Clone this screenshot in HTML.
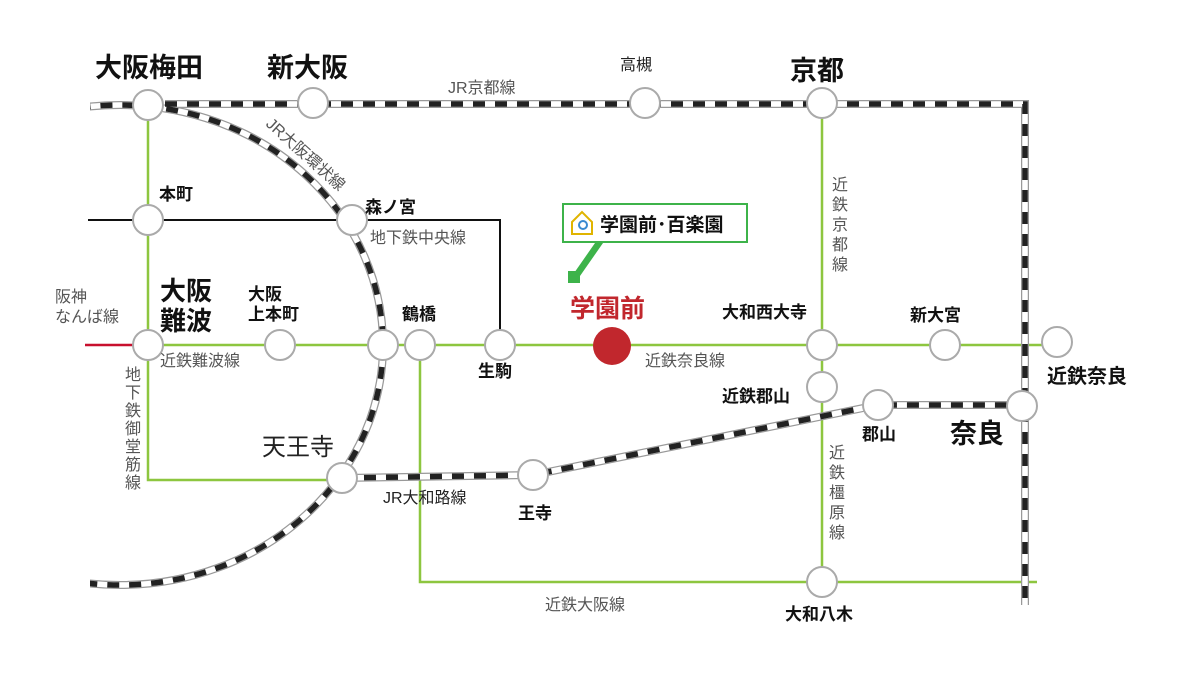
<!DOCTYPE html>
<html><head><meta charset="utf-8"><style>
html,body{margin:0;padding:0;background:#fff}
svg{display:block}
text{font-family:"Liberation Sans","Noto Sans CJK JP",sans-serif}
.b{font-weight:bold;fill:#111}
.g{fill:#555}
</style></head><body>
<svg width="1200" height="675" viewBox="0 0 1200 675" xmlns="http://www.w3.org/2000/svg">
<defs>
<clipPath id="cl"><rect x="90" y="95" width="600" height="500"/></clipPath>
</defs>
<!-- green lines -->
<g stroke="#8dc63f" stroke-width="2.5" fill="none">
<line x1="148" y1="345" x2="1055" y2="345"/>
<polyline points="148,105 148,480 342,480"/>
<line x1="822" y1="103" x2="822" y2="582"/>
<polyline points="420,345 420,582 1037,582"/>
</g>
<line x1="85" y1="345" x2="135" y2="345" stroke="#c8102e" stroke-width="2.5"/>
<polyline points="88,220 500,220 500,345" stroke="#111" stroke-width="2" fill="none"/>
<!-- JR lines -->
<g fill="none" stroke-linecap="butt">
<g stroke="#999" stroke-width="8">
<ellipse cx="120" cy="345" rx="263" ry="240" clip-path="url(#cl)"/>
<polyline points="165,104 1025,104 1025,605"/>
<polyline points="342,478 533,475 878,405 1022,405"/>
</g>
<g stroke="#fff" stroke-width="5.5">
<ellipse cx="120" cy="345" rx="263" ry="240" clip-path="url(#cl)"/>
<polyline points="165,104 1025,104 1025,605"/>
<polyline points="342,478 533,475 878,405 1022,405"/>
</g>
<g stroke="#222" stroke-width="5.5" stroke-dasharray="12 10">
<ellipse cx="120" cy="345" rx="263" ry="240" clip-path="url(#cl)"/>
<polyline points="165,104 1025,104 1025,605"/>
<polyline points="342,478 533,475 878,405 1022,405"/>
</g>
</g>
<!-- stations -->
<g fill="#fff" stroke="#aaa" stroke-width="2">
<circle cx="148" cy="105" r="15"/><circle cx="313" cy="103" r="15"/><circle cx="645" cy="103" r="15"/><circle cx="822" cy="103" r="15"/>
<circle cx="148" cy="220" r="15"/><circle cx="352" cy="220" r="15"/>
<circle cx="148" cy="345" r="15"/><circle cx="280" cy="345" r="15"/><circle cx="383" cy="345" r="15"/><circle cx="420" cy="345" r="15"/><circle cx="500" cy="345" r="15"/>
<circle cx="822" cy="345" r="15"/><circle cx="945" cy="345" r="15"/><circle cx="1057" cy="342" r="15"/>
<circle cx="822" cy="387" r="15"/><circle cx="878" cy="405" r="15"/><circle cx="1022" cy="406" r="15"/>
<circle cx="342" cy="478" r="15"/><circle cx="533" cy="475" r="15"/><circle cx="822" cy="582" r="15"/>
</g>
<circle cx="612" cy="346" r="19" fill="#c1272d"/>
<!-- callout -->
<polygon points="572,276 580,276 603,243 595,243" fill="#3db34a"/>
<rect x="568" y="271" width="12" height="12" fill="#3db34a"/>
<rect x="563" y="204" width="184" height="38" fill="#fff" stroke="#3db34a" stroke-width="2"/>
<path d="M572,222 L582,212 L592,222 L592,234 L572,234 Z" fill="#fff" stroke="#e0b400" stroke-width="2"/>
<circle cx="583" cy="225" r="4" fill="none" stroke="#3a8ad0" stroke-width="2"/>
<text x="600" y="231" font-size="19" class="b">学園前･百楽園</text>
<!-- labels -->
<g class="b">
<text x="95" y="77" font-size="27">大阪梅田</text>
<text x="267" y="77" font-size="27">新大阪</text>
<text x="790" y="80" font-size="27">京都</text>
<text x="159" y="200" font-size="17">本町</text>
<text x="365" y="213" font-size="17">森ノ宮</text>
<text x="160" y="300" font-size="26">大阪</text>
<text x="160" y="330" font-size="26">難波</text>
<text x="248" y="300" font-size="17">大阪</text>
<text x="248" y="320" font-size="17">上本町</text>
<text x="402" y="320" font-size="17">鶴橋</text>
<text x="478" y="377" font-size="17">生駒</text>
<text x="722" y="318" font-size="17">大和西大寺</text>
<text x="910" y="321" font-size="17">新大宮</text>
<text x="1047" y="383" font-size="20">近鉄奈良</text>
<text x="722" y="402" font-size="17">近鉄郡山</text>
<text x="862" y="440" font-size="17">郡山</text>
<text x="950" y="443" font-size="27">奈良</text>
<text x="518" y="519" font-size="17">王寺</text>
<text x="785" y="620" font-size="17">大和八木</text>
</g>
<text x="262" y="455" font-size="24" fill="#222">天王寺</text>
<text x="570" y="317" font-size="25" font-weight="bold" fill="#c1272d">学園前</text>
<g class="g" font-size="16">
<text x="448" y="93">JR京都線</text>
<text x="620" y="70" fill="#222">高槻</text>
<text x="370" y="243">地下鉄中央線</text>
<text x="160" y="366">近鉄難波線</text>
<text x="645" y="366">近鉄奈良線</text>
<text x="545" y="610">近鉄大阪線</text>
<text x="383" y="503" fill="#222">JR大和路線</text>
<text x="55" y="302">阪神</text>
<text x="55" y="322">なんば線</text>
<text x="265" y="125" transform="rotate(42 265 125)">JR大阪環状線</text>
</g>
<g class="g" font-size="16" text-anchor="middle">
<text x="133" y="380">地</text><text x="133" y="398">下</text><text x="133" y="416">鉄</text><text x="133" y="434">御</text><text x="133" y="452">堂</text><text x="133" y="470">筋</text><text x="133" y="488">線</text>
<text x="840" y="190">近</text><text x="840" y="210">鉄</text><text x="840" y="230">京</text><text x="840" y="250">都</text><text x="840" y="270">線</text>
<text x="837" y="458">近</text><text x="837" y="478">鉄</text><text x="837" y="498">橿</text><text x="837" y="518">原</text><text x="837" y="538">線</text>
</g>
</svg>
</body></html>
